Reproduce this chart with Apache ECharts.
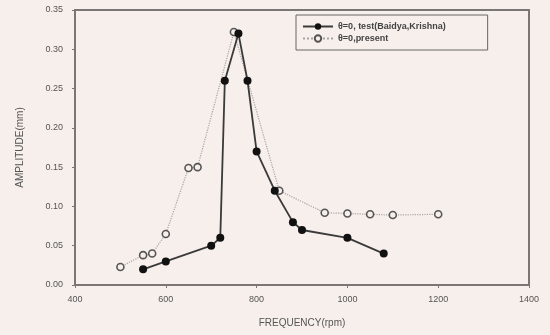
<!DOCTYPE html>
<html>
<head>
<meta charset="utf-8">
<script src="https://cdn.jsdelivr.net/npm/echarts@6/dist/echarts.min.js"></script>
<style>
html,body{margin:0;padding:0;background:#f7efeb;}
#chart{width:550px;height:335px;}
</style>
</head>
<body>
<div id="chart"></div>
<script>
"use strict";
// 数据
var testName = 'θ=0, test(Baidya,Krishna)';
var presentName = 'θ=0,present';
var testFreq = [550, 600, 700, 720, 730, 760, 780, 800, 840, 880, 900, 1000, 1080];
var testAmp = [0.020, 0.030, 0.050, 0.060, 0.260, 0.320, 0.260, 0.170, 0.120, 0.080, 0.070, 0.060, 0.040];
var presentFreq = [500, 550, 570, 600, 650, 670, 750, 850, 950, 1000, 1050, 1100, 1200];
var presentAmp = [0.023, 0.038, 0.040, 0.065, 0.149, 0.150, 0.322, 0.120, 0.092, 0.091, 0.090, 0.089, 0.090];

function pairs(xs, ys){
    var out = [];
    for(var i=0;i<xs.length;i++){
        out.push([xs[i], ys[i]]);
    }
    return out;
}

var myChart = echarts.init(document.getElementById('chart'));
var axisColor = '#7a7676';
var textColor = '#555';
var option = {
    backgroundColor: '#f7efeb',
    animation: false,
    textStyle: { fontFamily: 'Liberation Sans' },
    grid: { left: 75, right: 21, top: 10, bottom: 50, show: true, borderColor: axisColor, borderWidth: 2, backgroundColor: 'transparent' },
    legend: {
        orient: 'vertical',
        left: 296,
        top: 15,
        padding: [7, 42, 7, 6],
        itemGap: 3,
        itemWidth: 30,
        itemHeight: 8,
        borderColor: '#666',
        borderWidth: 1,
        textStyle: { fontSize: 9, fontWeight: 'bold', color: '#444' },
        data: [testName, presentName]
    },
    xAxis: {
        type: 'value',
        min: 400,
        max: 1400,
        interval: 200,
        name: 'FREQUENCY(rpm)',
        nameLocation: 'middle',
        nameGap: 33,
        nameTextStyle: { fontSize: 10, color: textColor },
        axisLine: { show: true, lineStyle: { color: axisColor, width: 2 } },
        axisTick: { show: true, length: 3, lineStyle: { color: axisColor } },
        axisLabel: { fontSize: 9, color: textColor, margin: 10, formatter: function(v){ return String(v); } },
        splitLine: { show: false }
    },
    yAxis: {
        type: 'value',
        min: 0,
        max: 0.35,
        interval: 0.05,
        name: 'AMPLITUDE(mm)',
        nameLocation: 'middle',
        nameGap: 50,
        nameTextStyle: { fontSize: 10, color: textColor },
        axisLine: { show: true, lineStyle: { color: axisColor, width: 2 } },
        axisTick: { show: true, length: 3, lineStyle: { color: axisColor } },
        axisLabel: { fontSize: 9, color: textColor, margin: 12, formatter: function(v){ return v.toFixed(2); } },
        splitLine: { show: false }
    },
    series: [
        {
            name: testName,
            type: 'line',
            data: pairs(testFreq, testAmp),
            symbol: 'circle',
            symbolSize: 8,
            showAllSymbol: true,
            lineStyle: { color: '#3a3a3a', width: 1.8 },
            itemStyle: { color: '#111', borderColor: '#111', borderWidth: 0 },
            z: 3
        },
        {
            name: presentName,
            type: 'line',
            data: pairs(presentFreq, presentAmp),
            symbol: 'circle',
            symbolSize: 7,
            showAllSymbol: true,
            lineStyle: { color: '#a8a4a4', width: 1.2, type: 'dotted' },
            itemStyle: { color: '#f7efeb', borderColor: '#555', borderWidth: 1.6 },
            z: 2
        }
    ]
};
myChart.setOption(option, true);
</script>
</body>
</html>
